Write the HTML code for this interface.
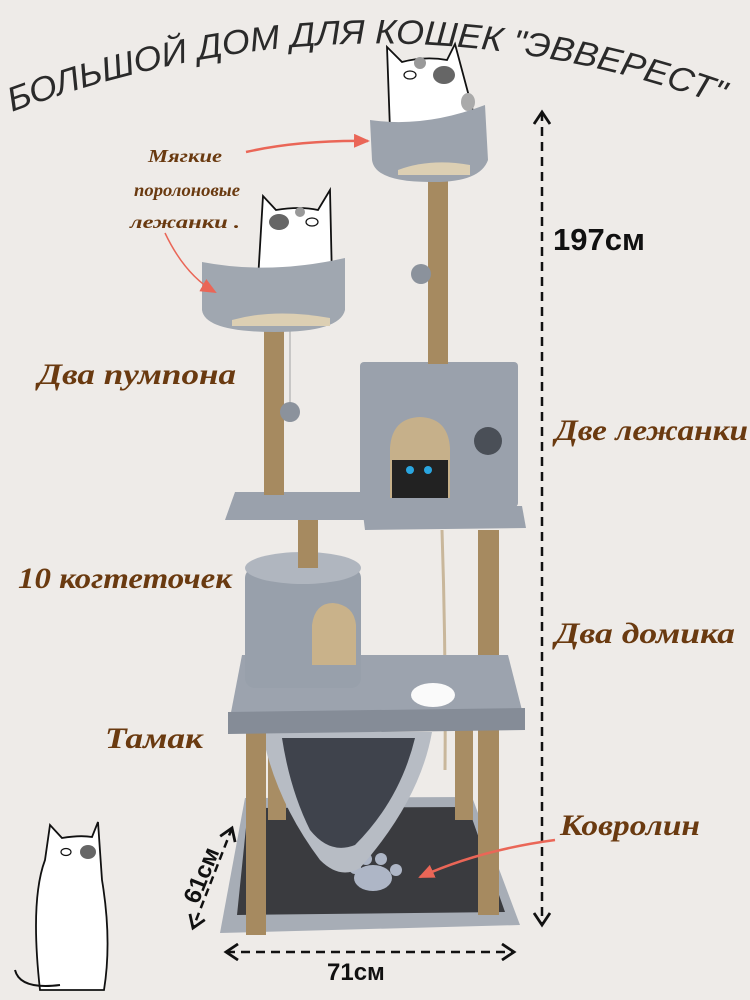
<!DOCTYPE html>
<html><head><meta charset="utf-8"><style>
html,body{margin:0;padding:0;background:#eeebe8;}
svg{display:block;}
.br{font-family:"Liberation Serif",serif;font-style:italic;font-weight:bold;fill:#6a3a10;}
.dim{font-family:"Liberation Sans",sans-serif;font-weight:bold;fill:#111;}
</style></head><body>
<svg width="750" height="1000" viewBox="0 0 750 1000" xmlns="http://www.w3.org/2000/svg">
<defs>
<path id="arc" d="M12,112 Q380,-25 740,112"/>
<marker id="ah" markerWidth="16" markerHeight="18" refX="13" refY="9" orient="auto-start-reverse" markerUnits="userSpaceOnUse"><path d="M1,1 L13,9 L1,17" fill="none" stroke="#111" stroke-width="2.8"/></marker>
<marker id="rh" markerWidth="16" markerHeight="14" refX="14" refY="7" orient="auto" markerUnits="userSpaceOnUse"><path d="M0,0 L16,7 L0,14z" fill="#ea6657"/></marker>
</defs>
<rect width="750" height="1000" fill="#eeebe8"/>
<text font-family="Liberation Sans,sans-serif" font-style="italic" font-size="34" fill="#2a2a2a"><textPath href="#arc" textLength="725" lengthAdjust="spacingAndGlyphs">БОЛЬШОЙ ДОМ ДЛЯ КОШЕК "ЭВВЕРЕСТ"</textPath></text>

<line x1="542" y1="112" x2="542" y2="925" stroke="#111" stroke-width="2.5" stroke-dasharray="9,6" marker-start="url(#ah)" marker-end="url(#ah)"/>
<line x1="226" y1="952" x2="514" y2="952" stroke="#111" stroke-width="2.5" stroke-dasharray="9,6" marker-start="url(#ah)" marker-end="url(#ah)"/>
<line x1="232" y1="828" x2="193" y2="928" stroke="#111" stroke-width="2.5" stroke-dasharray="8,5" marker-start="url(#ah)" marker-end="url(#ah)"/>
<text class="dim" x="553" y="250" font-size="31">197см</text>
<text class="dim" x="327" y="980" font-size="24">71см</text>
<text class="dim" font-size="24" transform="translate(198,905) rotate(-68)">61см</text>

<polygon points="245,798 472,797 520,925 220,933" fill="#a7adb6"/>
<polygon points="248,808 468,807 505,912 237,915" fill="#3a3b3f"/>
<g fill="#aeb6c6"><ellipse cx="373" cy="878" rx="19" ry="13"/><circle cx="355" cy="868" r="6"/><circle cx="366" cy="859" r="6"/><circle cx="381" cy="859" r="6"/><circle cx="396" cy="870" r="6"/></g>

<rect x="268" y="725" width="18" height="95" fill="#a88d64"/>
<rect x="455" y="725" width="18" height="95" fill="#a88d64"/>
<path d="M262,732 L432,732 Q420,800 360,868 Q340,880 320,860 Q275,800 262,732z" fill="#b7bcc4"/>
<path d="M282,738 L415,738 Q400,800 355,845 Q330,855 310,830 Q290,790 282,738z" fill="#3f434c"/>
<rect x="246" y="725" width="20" height="210" fill="#a68a60"/>
<rect x="478" y="530" width="21" height="385" fill="#a68a60"/>
<path d="M442,530 Q446,650 445,770" stroke="#c9b79b" stroke-width="3" fill="none"/>

<polygon points="242,655 508,655 525,722 228,728" fill="#9ca3ae"/>
<polygon points="228,712 525,708 525,730 228,734" fill="#858c97"/>
<ellipse cx="433" cy="695" rx="22" ry="12" fill="#fafafa"/>

<rect x="245" y="568" width="116" height="120" rx="10" fill="#98a0ab"/>
<ellipse cx="303" cy="568" rx="58" ry="16" fill="#b0b6bf"/>
<path d="M312,665 L312,625 Q315,603 333,603 Q354,605 356,625 L356,665z" fill="#c9b28a"/>
<rect x="298" y="518" width="20" height="50" fill="#a68a60"/>

<polygon points="235,492 365,492 365,520 225,520" fill="#9aa1ac"/>
<rect x="264" y="325" width="20" height="170" fill="#a68a60"/>
<line x1="290" y1="330" x2="290" y2="405" stroke="#bbb" stroke-width="1.5"/>
<circle cx="290" cy="412" r="10" fill="#8b929c"/>

<rect x="360" y="362" width="158" height="145" rx="4" fill="#9aa1ac"/>
<path d="M390,498 L390,448 Q392,418 420,417 Q448,418 450,448 L450,498z" fill="#c6b08a"/>
<path d="M392,460 L448,460 L448,498 L392,498z" fill="#222"/>
<circle cx="410" cy="470" r="4" fill="#2aa6e0"/><circle cx="428" cy="470" r="4" fill="#2aa6e0"/>
<circle cx="488" cy="441" r="14" fill="#4a4f57"/>
<polygon points="362,506 522,506 526,528 365,530" fill="#9aa1ac"/>

<rect x="428" y="172" width="20" height="192" fill="#a68a60"/>
<circle cx="421" cy="274" r="10" fill="#8b929c"/>

<g stroke="#111" stroke-width="1.8" fill="#fff">
<path d="M390,130 L387,47 L402,62 Q425,56 447,60 L455,44 L478,130 Z"/>
<path d="M258,280 L263,196 L276,210 Q300,206 318,210 L330,190 L332,280 Z"/>
<path d="M40,990 Q30,900 45,860 L50,825 L62,838 Q80,835 92,837 L98,822 L102,880 Q112,940 104,990 Z"/>
</g>
<g fill="#666"><ellipse cx="444" cy="75" rx="11" ry="9"/><ellipse cx="468" cy="102" rx="7" ry="9" fill="#aaa"/><ellipse cx="279" cy="222" rx="10" ry="8"/><ellipse cx="88" cy="852" rx="8" ry="7"/><circle cx="420" cy="63" r="6" fill="#999"/><circle cx="300" cy="212" r="5" fill="#999"/></g>
<g fill="#fff" stroke="#111" stroke-width="1.2"><ellipse cx="410" cy="75" rx="6" ry="4"/><ellipse cx="312" cy="222" rx="6" ry="4"/><ellipse cx="66" cy="852" rx="5" ry="3.5"/></g>
<path d="M60,985 Q20,990 15,970" stroke="#111" stroke-width="2" fill="none"/>

<path d="M370,120 Q425,128 485,105 L488,160 Q480,183 430,182 Q375,182 372,160z" fill="#9ca3ad"/>
<path d="M398,170 Q430,158 470,165 L470,175 L398,175z" fill="#dccfb3"/>
<path d="M202,262 Q270,275 345,258 L345,310 Q340,332 275,332 Q205,332 202,310z" fill="#a0a7b0"/>
<path d="M232,320 Q275,308 330,318 L330,326 L232,326z" fill="#dccfb3"/>

<text class="br" x="148" y="162" font-size="18" textLength="74" lengthAdjust="spacingAndGlyphs">Мягкие</text>
<text class="br" x="134" y="196" font-size="18" textLength="106" lengthAdjust="spacingAndGlyphs">поролоновые</text>
<text class="br" x="130" y="228" font-size="18" textLength="110" lengthAdjust="spacingAndGlyphs">лежанки .</text>
<text class="br" x="38" y="384" font-size="30" textLength="198" lengthAdjust="spacingAndGlyphs">Два пумпона</text>
<text class="br" x="555" y="440" font-size="30" textLength="193" lengthAdjust="spacingAndGlyphs">Две лежанки</text>
<text class="br" x="18" y="588" font-size="30" textLength="214" lengthAdjust="spacingAndGlyphs">10 когтеточек</text>
<text class="br" x="555" y="643" font-size="30" textLength="180" lengthAdjust="spacingAndGlyphs">Два домика</text>
<text class="br" x="105" y="748" font-size="30" textLength="98" lengthAdjust="spacingAndGlyphs">Тамак</text>
<text class="br" x="560" y="835" font-size="30" textLength="140" lengthAdjust="spacingAndGlyphs">Ковролин</text>

<path d="M246,152 Q300,140 368,141" stroke="#ea6657" stroke-width="2.5" fill="none" marker-end="url(#rh)"/>
<path d="M165,233 Q185,275 215,292" stroke="#ea6657" stroke-width="1.5" fill="none" marker-end="url(#rh)"/>
<path d="M555,840 Q480,850 420,877" stroke="#ea6657" stroke-width="2.5" fill="none" marker-end="url(#rh)"/>
</svg>
</body></html>
